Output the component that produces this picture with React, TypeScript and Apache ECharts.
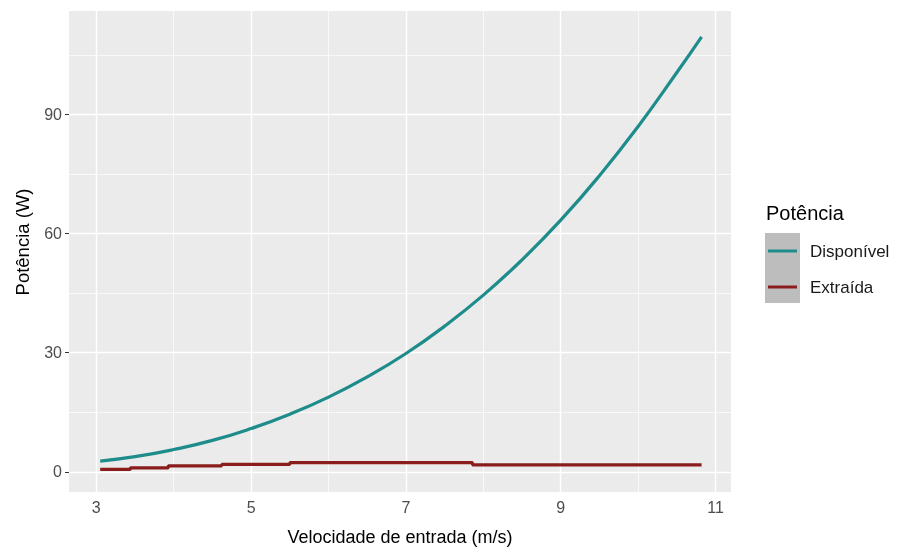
import React, { useEffect, useRef } from "react";
import * as echarts from "echarts";

const velocidade = [3.05, 3.5, 4, 4.5, 5, 5.5, 6, 6.5, 7, 7.5, 8, 8.5, 9, 9.5, 10, 10.5, 10.82];
const disponivel = [2.7, 3.8, 5.6, 7.9, 10.9, 14.5, 18.8, 23.9, 29.8, 36.7, 44.5, 53.4, 63.4, 74.6, 87.0, 100.6, 109.6];

const velocidadeExtraida = [3.05, 3.44, 3.93, 4.62, 5.5, 7.86, 10.82];
const extraida = [0.6, 1.0, 1.5, 1.85, 2.3, 1.75, 1.75];

const xTicks = [3, 5, 7, 9, 11];
const xMinor = [4, 6, 8, 10];
const yTicks = [0, 30, 60, 90];
const yMinor = [15, 45, 75, 105];

const seriesNames = ["Disponível", "Extraída"];
const colors = ["#1f8c8c", "#8b1c1c"];
const legendTitle = "Potência";
const xTitle = "Velocidade de entrada (m/s)";
const yTitle = "Potência (W)";

export default function App() {
  const ref = useRef<HTMLDivElement>(null);
  useEffect(() => {
    if (!ref.current) return;
    const chart = echarts.init(ref.current, undefined, { renderer: "svg" });
    const font = "Liberation Sans, Arial, sans-serif";
    const gridLeft = 69, gridTop = 11, gridW = 662, gridH = 481;
    const markData = [
      ...xTicks.map((v) => ({ xAxis: v, lineStyle: { width: 1.4 } })),
      ...xMinor.map((v) => ({ xAxis: v, lineStyle: { width: 0.7 } })),
      ...yTicks.map((v) => ({ yAxis: v, lineStyle: { width: 1.4 } })),
      ...yMinor.map((v) => ({ yAxis: v, lineStyle: { width: 0.7 } })),
    ];
    const legendY0 = 251;
    const legendStep = 36;
    chart.setOption({
      animation: false,
      textStyle: { fontFamily: font },
      grid: {
        left: gridLeft,
        top: gridTop,
        width: gridW,
        height: gridH,
        show: true,
        backgroundColor: "#ebebeb",
        borderWidth: 0,
      },
      xAxis: {
        type: "value",
        min: 2.647,
        max: 11.2,
        axisLine: { show: false },
        splitLine: { show: false },
        axisTick: { show: true, customValues: xTicks, length: 4, lineStyle: { color: "#333", width: 1 } },
        axisLabel: { customValues: xTicks, color: "#4d4d4d", fontSize: 16, margin: 7, fontFamily: font },
      },
      yAxis: {
        type: "value",
        min: -5.1,
        max: 116.1,
        axisLine: { show: false },
        splitLine: { show: false },
        axisTick: { show: true, customValues: yTicks, length: 4, lineStyle: { color: "#333", width: 1 } },
        axisLabel: { customValues: yTicks, color: "#4d4d4d", fontSize: 16, margin: 7, fontFamily: font },
      },
      series: [
        {
          type: "line",
          name: "grid",
          z: 1,
          silent: true,
          data: [],
          markLine: {
            z: 1,
            silent: true,
            symbol: "none",
            label: { show: false },
            animation: false,
            lineStyle: { color: "#ffffff", type: "solid" },
            emphasis: { disabled: true },
            data: markData,
          },
        },
        {
          type: "line",
          name: seriesNames[0],
          z: 10,
          smooth: true,
          showSymbol: false,
          lineStyle: { color: colors[0], width: 3.2 },
          data: velocidade.map((v, i) => [v, disponivel[i]]),
        },
        {
          type: "line",
          name: seriesNames[1],
          z: 10,
          step: "end",
          showSymbol: false,
          lineStyle: { color: colors[1], width: 3.2 },
          data: velocidadeExtraida.map((v, i) => [v, extraida[i]]),
        },
      ],
      graphic: [
        {
          type: "text",
          x: gridLeft + gridW / 2,
          y: 537,
          style: { text: xTitle, fill: "#000", fontSize: 18, fontFamily: font, align: "center", verticalAlign: "middle" },
        },
        {
          type: "text",
          x: 22,
          y: 242,
          rotation: Math.PI / 2,
          style: { text: yTitle, fill: "#000", fontSize: 18.5, fontFamily: font, align: "center", verticalAlign: "middle" },
        },
        {
          type: "text",
          x: 766,
          y: 213,
          style: { text: legendTitle, fill: "#000", fontSize: 20, fontFamily: font, align: "left", verticalAlign: "middle" },
        },
        {
          type: "rect",
          shape: { x: 765, y: 233, width: 35, height: 70 },
          style: { fill: "#bdbdbd" },
        },
        ...seriesNames.flatMap((n, i) => [
          {
            type: "line",
            shape: { x1: 768, y1: legendY0 + i * legendStep, x2: 797, y2: legendY0 + i * legendStep },
            style: { stroke: colors[i], lineWidth: 3 },
          },
          {
            type: "text",
            x: 810,
            y: legendY0 + i * legendStep,
            style: { text: n, fill: "#1a1a1a", fontSize: 17, fontFamily: font, align: "left", verticalAlign: "middle" },
          },
        ]),
      ],
    });
    return () => chart.dispose();
  }, []);
  return <div ref={ref} style={{ position: "fixed", left: 0, top: 0, width: 901, height: 552 }} />;
}
